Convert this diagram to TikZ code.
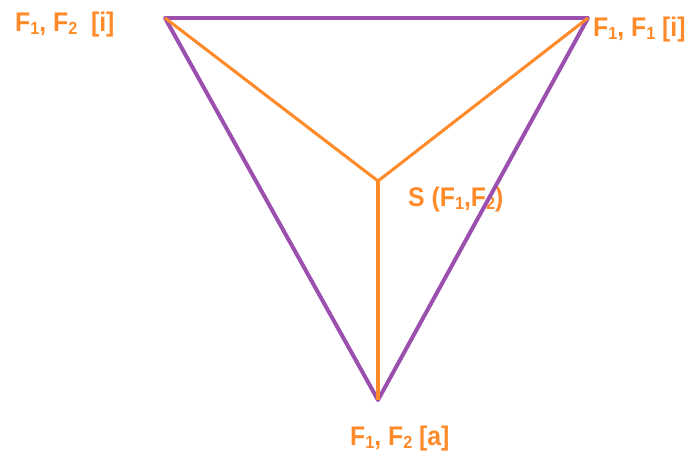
\documentclass[tikz,border=0pt]{standalone}
\usepackage{fontspec}
\setmainfont{Liberation Sans}
\usepackage{xcolor}
\definecolor{trorange}{HTML}{FF8A2A}
\definecolor{trpurple}{HTML}{9B4FAF}
\usetikzlibrary{positioning}
\newcommand{\ix}[1]{\raisebox{-0.15ex}{\fontsize{15}{15}\selectfont #1}}

\begin{document}
\begin{tikzpicture}[x=0.03cm,y=-0.03cm]
\tikzset{
 lb/.style={text=trorange,font=\bfseries\fontsize{23}{25}\selectfont,inner sep=0pt,xscale=0.92},
 ed/.style={draw=trpurple,line width=3.4pt},
 sp/.style={draw=trorange,line width=2.6pt}
}
\useasboundingbox (0,0) rectangle (695,459);
\coordinate (tl) at (165,18);
\coordinate (tr) at (588,18);
\coordinate (bt) at (378,400);
\coordinate (sc) at (378,181);
\node[lb,anchor=west] (ltl) at (15,25) {F\ix{1}, F\ix{2}\ \ [i]};
\node[lb,anchor=west] (ltr) at (593,30) {F\ix{1}, F\ix{1} [i]};
\node[lb,anchor=west] (lsc) at (408,200) {S (F\ix{1},F\ix{2})};
\node[lb,anchor=west] (lbt) at (350,439) {F\ix{1}, F\ix{2} [a]};
\draw[ed,line join=round] (tl)--(tr)--(bt)--cycle;
\draw[sp] (tl)--(sc);
\draw[sp] (tr)--(sc);
\draw[sp] (bt)--(sc);
\end{tikzpicture}
\end{document}
